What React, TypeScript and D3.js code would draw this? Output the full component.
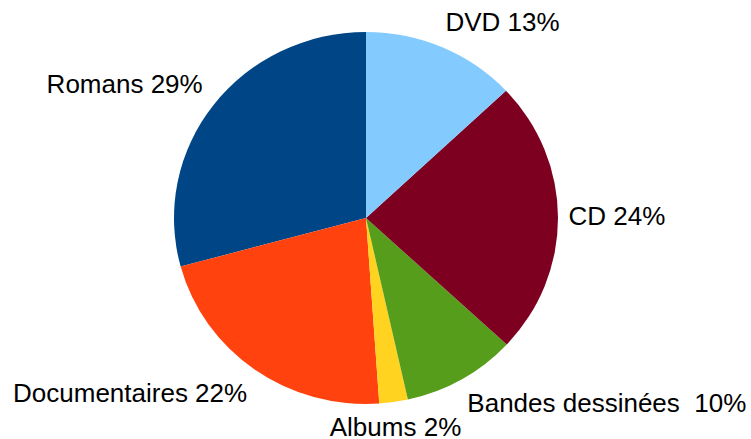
import React from "react";
import * as d3 from "d3";

// Data (counter-clockwise from 12 o'clock, as drawn)
const categories = ["Romans", "Documentaires", "Albums", "Bandes dessinées ", "CD", "DVD"];
const values = [29.2, 21.9, 2.4, 9.6, 23.9, 13.0];
const colors = ["#004586", "#ff420e", "#ffd320", "#579d1c", "#7e0021", "#83caff"];

// Label layout tweaks (dx, dy relative to the anchor point just outside the slice)
const labelNudge: Record<string, [number, number]> = {
  "Romans": [-4.5, -6.8],
  "Documentaires": [-2.8, 26.4],
  "Albums": [0.7, 26.5],
  "Bandes dessinées ": [1.7, 25.5],
  "CD": [2.5, 7.7],
  "DVD": [0, -9],
};

const W = 751;
const H = 439;
const cx = 366;
const cy = 218;
const rx = 192;
const ry = 186;
const gap = 8;

export default function App() {
  const total = d3.sum(values);
  const data = categories.map((c, i) => ({ name: c, value: values[i], color: colors[i] }));
  const pie = d3
    .pie<{ name: string; value: number; color: string }>()
    .sort(null)
    .value((d) => d.value)
    .startAngle(0)
    .endAngle(-2 * Math.PI);
  const arcs = pie(data);
  const arc = d3.arc<d3.PieArcDatum<any>>().innerRadius(0).outerRadius(rx);

  return (
    <svg
      width={W}
      height={H}
      style={{ position: "absolute", left: 0, top: 0, background: "#fff" }}
      fontFamily="'Liberation Sans', Arial, sans-serif"
    >
      <g transform={`translate(${cx},${cy}) scale(1,${ry / rx})`}>
        {arcs.map((a) => (
          <path key={a.data.name} d={arc(a) || ""} fill={a.data.color} stroke="none" />
        ))}
      </g>
      {arcs.map((a) => {
        const mid = (a.startAngle + a.endAngle) / 2;
        const s = Math.sin(mid);
        const c = Math.cos(mid);
        const px = cx + (rx + gap) * s;
        const py = cy - (ry + gap) * c;
        const anchor = Math.abs(s) < 0.2 ? "middle" : s > 0 ? "start" : "end";
        const [dx, dy] = labelNudge[a.data.name] || [0, 0];
        const pct = Math.round((a.data.value / total) * 100);
        return (
          <text
            key={a.data.name}
            x={px + dx}
            y={py + dy}
            textAnchor={anchor}
            fontSize={26}
            fill="#000"
            style={{ whiteSpace: "pre" }}
          >
            {`${a.data.name} ${pct}%`}
          </text>
        );
      })}
    </svg>
  );
}
